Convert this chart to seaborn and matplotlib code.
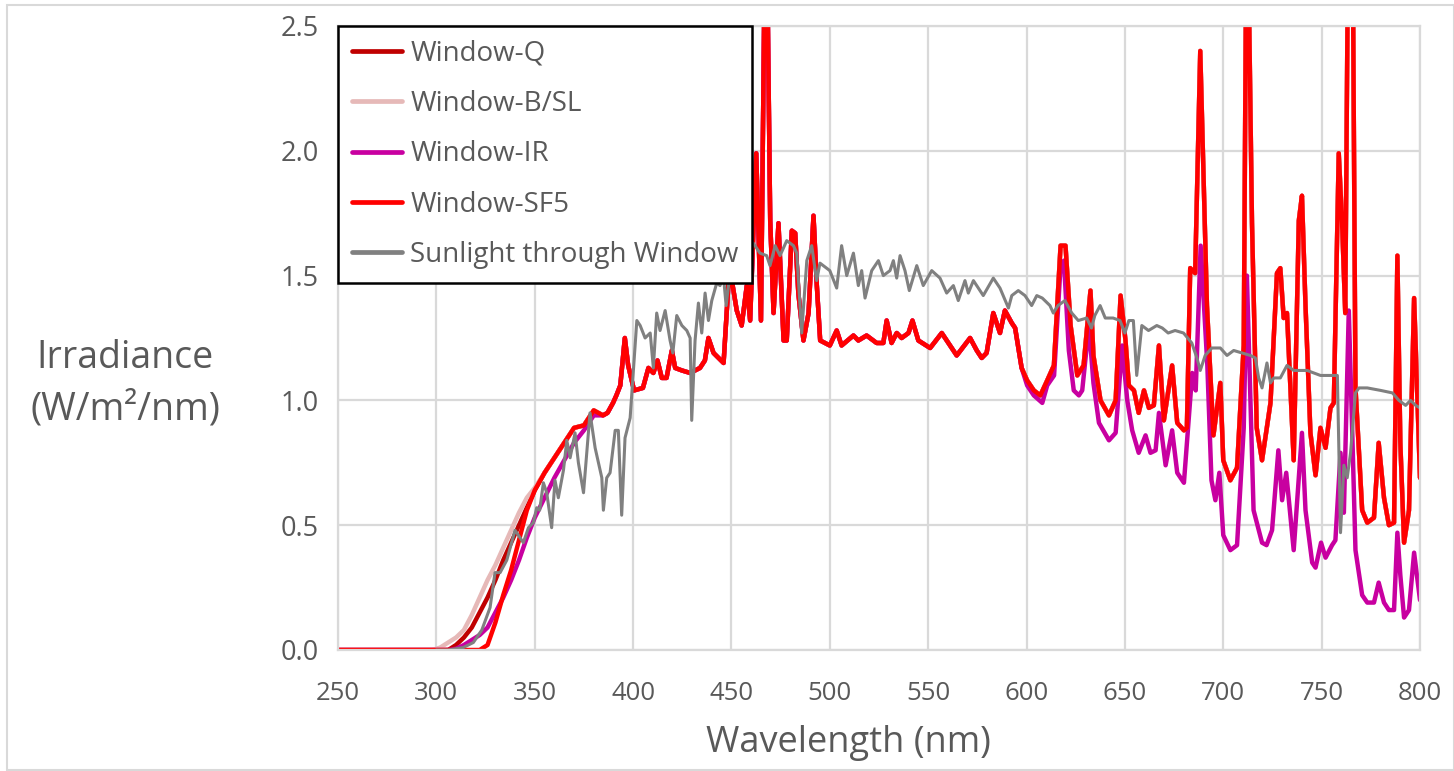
import matplotlib
matplotlib.use("Agg")
import matplotlib.pyplot as plt
from matplotlib import font_manager
from matplotlib.patches import Rectangle
import seaborn as sns
import pandas as pd

# ---------------- data ----------------
wl_uv = [250, 298, 302, 306, 310, 314, 318, 322, 326, 330, 334, 338, 342, 346,
         350, 355, 360, 365, 370, 375, 380]
sf5_uv = [0, 0, 0, 0, 0, 0, 0, 0, 0.02, 0.11, 0.22, 0.32, 0.44, 0.56,
          0.64, 0.71, 0.77, 0.83, 0.89, 0.90, 0.96]
q_uv = [0, 0, 0, 0, 0.02, 0.05, 0.09, 0.15, 0.21, 0.28, 0.36, 0.43, 0.50, 0.57,
        0.64, 0.71, 0.77, 0.83, 0.89, 0.90, 0.96]
bsl_uv = [0, 0, 0.01, 0.03, 0.05, 0.08, 0.14, 0.21, 0.28, 0.34, 0.41, 0.48, 0.55, 0.61,
          0.65, 0.71, 0.77, 0.83, 0.89, 0.90, 0.96]
ir_uv = [0, 0, 0, 0, 0.005, 0.02, 0.04, 0.06, 0.09, 0.15, 0.21, 0.28, 0.36, 0.45,
         0.53, 0.61, 0.69, 0.76, 0.83, 0.88, 0.94]

wl_vis = [384.7, 387, 389.8, 391.5, 393.5, 395.8, 397.5, 400.5, 405, 407.8, 410.3, 412.4,
          414.6, 417, 419.7, 421.4, 424.8, 429, 434, 436.5, 438.3, 440.9, 446, 448.5,
          450.2, 452.7, 455.2, 457.8, 459.5, 462.6, 465, 467.5, 469.7, 471.4, 473.9,
          476.5, 478.1, 480.7, 482.4, 484, 486.6, 489.2, 491.7, 493.4, 495.1, 500,
          503.5, 506, 512, 514.5, 518.7, 523.8, 527.2, 528.9, 531.4, 534, 536.5, 540,
          542, 545, 551, 556.9, 560.3, 564.5, 571.3, 574.7, 577.2, 579.7, 583.1,
          586.5, 589, 592.5, 594.2, 597.5]
lamp_vis = [0.94, 0.95, 0.99, 1.02, 1.06, 1.25, 1.14, 1.04, 1.05, 1.13, 1.11, 1.16,
            1.09, 1.09, 1.20, 1.13, 1.12, 1.11, 1.13, 1.16, 1.25, 1.19, 1.15, 1.47,
            1.48, 1.36, 1.30, 1.46, 1.32, 1.99, 1.32, 3.20, 1.72, 1.35, 1.71,
            1.24, 1.24, 1.68, 1.67, 1.43, 1.24, 1.35, 1.74, 1.46, 1.24, 1.22,
            1.28, 1.22, 1.26, 1.24, 1.26, 1.23, 1.23, 1.32, 1.23, 1.27, 1.25, 1.27,
            1.32, 1.24, 1.21, 1.27, 1.23, 1.18, 1.25, 1.20, 1.17, 1.19, 1.35,
            1.27, 1.36, 1.31, 1.29, 1.13]

wl_nir = [600.3, 603.7, 607, 610.5, 613.9, 617.3, 619.8, 622.4, 625.8, 629, 632.5, 634,
          637.6, 641.9, 645.3, 647.8, 650.3, 652, 654.6, 657, 659.7, 662.2, 664.7,
          667.3, 669.8, 674, 676.6, 680, 681.5, 683.2, 685.7, 688.3, 691.7, 695,
          698.5, 700, 703.6, 707, 710.4, 712, 714.6, 717, 719.7, 724, 727.3, 729,
          730.7, 732.4, 735.8, 738.4, 740, 741.8, 744.3, 746.9, 749.4, 752, 754.5,
          756.2, 758.7, 760.4, 762, 763.8, 765.5, 767.2, 770.6, 773.2, 776.6, 779,
          781.7, 784.2, 786.8, 788.5, 790, 791.9, 794.4, 797, 800]
lamp_nir = [1.08, 1.04, 1.02, 1.08, 1.14, 1.62, 1.62, 1.30, 1.10, 1.14, 1.44, 1.18,
            1.00, 0.94, 1.00, 1.42, 1.24, 1.06, 1.04, 0.95, 1.04, 0.97, 0.98,
            1.22, 0.92, 1.14, 0.91, 0.88, 0.89, 1.53, 1.51, 2.40, 1.38, 0.86,
            1.07, 0.76, 0.68, 0.73, 1.22, 3.20, 1.71, 0.89, 0.76, 0.99, 1.51, 1.53,
            1.33, 1.35, 0.76, 1.72, 1.82, 1.38, 0.87, 0.70, 0.89, 0.81, 0.97,
            0.99, 1.99, 1.71, 1.35, 3.20, 3.20, 1.05, 0.56, 0.51, 0.53, 0.83,
            0.61, 0.50, 0.51, 1.58, 0.83, 0.43, 0.56, 1.41, 0.69]

wl_ir_nir = [600.3, 603.7, 608, 610.5, 614, 617.3, 619, 621.5, 624, 626.6, 628.3, 631.7,
             634, 636.8, 641.9, 645.3, 648.6, 651.2, 653.7, 657, 660.5, 663, 665.6,
             667.3, 670.7, 674, 676.6, 680, 684.2, 686, 688.5, 691.9, 694, 696, 698,
             700, 703.6, 707, 710.4, 712, 715.4, 719.7, 722, 724.8, 728, 729.9, 732,
             735.8, 740, 741.8, 745.2, 746.9, 749.7, 752, 755.3, 757, 759.6, 761.3,
             763.8, 765.5, 767.2, 770.6, 773.2, 776.6, 779, 781.7, 784.2, 786.8,
             788.5, 790, 791.9, 794.4, 797, 800]
ir_nir = [1.06, 1.02, 0.99, 1.06, 1.10, 1.54, 1.56, 1.20, 1.04, 1.02, 1.04, 1.30,
          1.07, 0.91, 0.84, 0.87, 1.22, 1.00, 0.88, 0.79, 0.86, 0.79, 0.80,
          0.95, 0.74, 0.88, 0.71, 0.67, 1.11, 1.04, 1.62, 1.14, 0.68, 0.60, 0.71,
          0.46, 0.40, 0.42, 0.89, 1.50, 0.56, 0.43, 0.42, 0.48, 0.80, 0.60, 0.71,
          0.40, 0.87, 0.56, 0.35, 0.33, 0.43, 0.37, 0.42, 0.44, 0.79, 0.55,
          1.36, 0.89, 0.40, 0.22, 0.19, 0.19, 0.27, 0.19, 0.16, 0.16,
          0.47, 0.30, 0.13, 0.16, 0.39, 0.20]

wl_sun = [300, 306, 313.7, 318.8, 323.1, 327.3, 329.8, 332.4, 335.8, 340, 342.5, 344.2,
          346.8, 349.3, 351, 352.5, 354.4, 356.1, 358.6, 360.3, 362, 364.6, 366.3, 368,
          370.5, 372.2, 374.8, 378.1, 380.7, 384.1, 384.9, 386.6, 388.3, 390.9, 392.5,
          394.2, 395.9, 398.5, 399.8, 401.9, 403.6, 406.1, 408.7, 410.3, 412, 413.7,
          416.3, 418.8, 420.2, 422.2, 424.8, 427.3, 429, 429.8, 431.5, 433.2, 434.9,
          436.6, 438.3, 440, 442.5, 444.2, 445.9, 447.3, 448.5, 450.2, 452.7, 457.8,
          461.1, 464.5, 467.9, 469.6, 472.2, 474.7, 478.1, 481.5, 483.2, 485.7, 488.3,
          490.8, 493.3, 495, 500, 503.5, 506, 508.6, 512, 514.5, 516.2, 517.9, 521.3,
          524.7, 527.2, 530.6, 532.3, 534, 535.7, 538.2, 540.4, 544.2, 547.5, 551.8,
          556, 559.4, 562.8, 565.3, 568.7, 570.4, 573, 578, 583.1, 586.5, 590.8, 592.5,
          595.8, 599.2, 602.6, 605.2, 608, 611.9, 613.6, 616, 619.5, 623, 626.3, 630.6,
          633, 634.7, 637.4, 640, 644, 647.5, 650, 652, 654.3, 656, 658.6, 662, 666.2,
          669, 672, 675.5, 679.8, 684, 686.6, 688.3, 690.8, 694.2, 698.5, 701.9, 705.3,
          709.5, 713.8, 716.3, 718, 719.7, 722.2, 724, 725.7, 729, 732.4, 735.8, 742.6,
          749.4, 756.2, 758, 759.6, 761.3, 763, 764.7, 767.2, 769, 773.2, 780, 786,
          789.3, 792.7, 795.2, 797.8, 800]
sun = [0, 0, 0.01, 0.03, 0.08, 0.17, 0.31, 0.31, 0.36, 0.48, 0.45, 0.43,
       0.49, 0.51, 0.57, 0.56, 0.67, 0.63, 0.49, 0.68, 0.61, 0.72, 0.84, 0.77,
       0.87, 0.75, 0.63, 0.95, 0.81, 0.69, 0.56, 0.69, 0.71, 0.88, 0.88,
       0.54, 0.85, 0.93, 1.08, 1.32, 1.30, 1.25, 1.27, 1.13, 1.35, 1.28,
       1.36, 1.24, 1.19, 1.34, 1.30, 1.28, 1.25, 0.92, 1.24, 1.39, 1.27,
       1.43, 1.32, 1.40, 1.47, 1.46, 1.50, 1.38, 1.46, 1.59, 1.60, 1.60,
       1.63, 1.59, 1.58, 1.54, 1.62, 1.58, 1.64, 1.62, 1.59, 1.27, 1.56,
       1.62, 1.48, 1.55, 1.52, 1.45, 1.62, 1.50, 1.59, 1.46, 1.52, 1.41, 1.52,
       1.56, 1.50, 1.52, 1.56, 1.49, 1.58, 1.52, 1.44, 1.54, 1.46, 1.52,
       1.49, 1.43, 1.46, 1.40, 1.48, 1.43, 1.48, 1.42, 1.49, 1.45, 1.37, 1.42,
       1.44, 1.42, 1.38, 1.42, 1.41, 1.38, 1.35, 1.38, 1.40, 1.35, 1.32, 1.33,
       1.29, 1.34, 1.38, 1.33, 1.33, 1.32, 1.27, 1.32, 1.32, 1.10, 1.30, 1.28, 1.30,
       1.29, 1.27, 1.28, 1.27, 1.23, 1.17, 1.12, 1.18, 1.21, 1.21, 1.18, 1.20,
       1.19, 1.18, 1.17, 1.09, 1.05, 1.15, 1.07, 1.09, 1.09, 1.14, 1.12, 1.12,
       1.10, 1.10, 1.10, 0.47, 0.74, 0.69, 0.79, 1.03, 1.05, 1.05, 1.04, 1.03,
       1.00, 0.98, 1.00, 0.98, 0.97]

series_names = ["Window-Q", "Window-B/SL", "Window-IR", "Window-SF5",
                "Sunlight through Window"]
series_colors = ["#C00000", "#E6B9B8", "#C800A0", "#FF0000", "#808080"]

x_ticks = [250, 300, 350, 400, 450, 500, 550, 600, 650, 700, 750, 800]
y_ticks = [0.0, 0.5, 1.0, 1.5, 2.0, 2.5]

# ---------------- assemble long-form table ----------------
series_x = {
    "Window-Q": wl_uv + wl_vis + wl_nir,
    "Window-B/SL": wl_uv + wl_vis + wl_nir,
    "Window-IR": wl_uv + wl_vis + wl_ir_nir,
    "Window-SF5": wl_uv + wl_vis + wl_nir,
    "Sunlight through Window": wl_sun,
}
series_y = {
    "Window-Q": q_uv + lamp_vis + lamp_nir,
    "Window-B/SL": bsl_uv + lamp_vis + lamp_nir,
    "Window-IR": ir_uv + lamp_vis + ir_nir,
    "Window-SF5": sf5_uv + lamp_vis + lamp_nir,
    "Sunlight through Window": sun,
}
frames = []
for name in series_names:
    frames.append(pd.DataFrame({"Wavelength": series_x[name],
                                "Irradiance": series_y[name],
                                "Series": name}))
df = pd.concat(frames, ignore_index=True)

# ---------------- style ----------------
sns.set_theme(style="white")
base_font = "Open Sans"
plt.rcParams["font.family"] = [base_font, "DejaVu Sans"]
narrow = None
for cand in ["Liberation Sans Narrow", "DejaVu Sans Condensed"]:
    try:
        font_manager.findfont(cand, fallback_to_default=False)
        narrow = cand
        break
    except Exception:
        pass
text_gray = "#595959"
grid_gray = "#D9D9D9"

fig = plt.figure(figsize=(14.54, 7.71), dpi=100)
ax = fig.add_axes([338 / 1454, 1 - 650 / 771, (1420 - 338) / 1454, (650 - 26) / 771])

for name, color in zip(series_names, series_colors):
    sub = df[df["Series"] == name]
    lw = 2.2 if name.startswith("Sunlight") else 3.2
    sns.lineplot(data=sub, x="Wavelength", y="Irradiance", ax=ax, color=color,
                 linewidth=lw, sort=False, estimator=None, label=name,
                 solid_joinstyle="round", solid_capstyle="round")

ax.set_xlim(250, 800)
ax.set_ylim(0, 2.5)
ax.set_xticks(x_ticks)
ax.set_yticks(y_ticks)
ax.set_yticklabels([f"{v:.1f}" for v in y_ticks])
ax.grid(True, color=grid_gray, linewidth=1.6)
ax.set_axisbelow(True)
for sp in ax.spines.values():
    sp.set_color(grid_gray)
    sp.set_linewidth(1.6)
ax.tick_params(axis="both", length=0, colors=text_gray)
ax.tick_params(axis="y", pad=14, labelsize=19.5)
xfont = [narrow, base_font] if narrow else [base_font]
ax.tick_params(axis="x", pad=22, labelsize=21 if narrow else 18.5)
for lbl in ax.get_xticklabels():
    lbl.set_family(xfont)
    lbl.set_color(text_gray)
ax.set_xlabel("Wavelength (nm)", fontsize=29 if narrow else 26, color=text_gray,
              family=xfont)
ax.xaxis.set_label_coords((848 - 338) / 1082, -(743 - 650) / 624, transform=ax.transAxes)
ax.xaxis.label.set_va("center")
ax.set_ylabel("")

fig.text(125 / 1454, 1 - 384 / 771, "Irradiance\n(W/m²/nm)", ha="center", va="center",
         fontsize=27, color=text_gray, linespacing=1.45, multialignment="center")

leg = ax.legend(loc="upper left", bbox_to_anchor=(0, 1), borderaxespad=0,
                frameon=True, fancybox=False, edgecolor="black", framealpha=1,
                fontsize=20, handlelength=1.8, handletextpad=0.3,
                labelspacing=0.80, borderpad=0.5)
leg.get_frame().set_linewidth(1.8)
for t in leg.get_texts():
    t.set_color(text_gray)
for h in leg.get_lines():
    h.set_linewidth(3.4)
leg.set_zorder(10)

fig.patches.append(Rectangle((7 / 1454, 1 - 770 / 771), 1 - 7 / 1454, (770 - 5) / 771,
                             transform=fig.transFigure, fill=False,
                             edgecolor=grid_gray, linewidth=1.5))

fig.savefig("out.png", dpi=100)
